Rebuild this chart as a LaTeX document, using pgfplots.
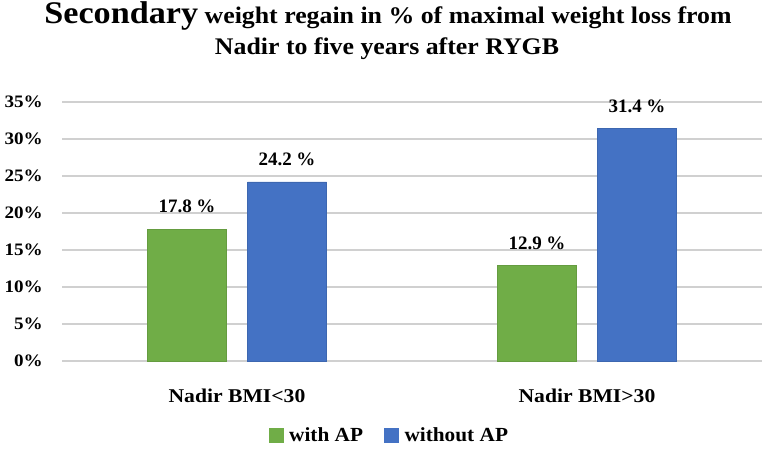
\documentclass[border=0pt]{standalone}
\usepackage{fontspec}
\setmainfont{Liberation Serif}
\usepackage{graphicx}
\usepackage{pgfplots}
\pgfplotsset{compat=1.18}
\definecolor{cgreen}{HTML}{70AD47}
\definecolor{cblue}{HTML}{4472C4}
\definecolor{cgrid}{HTML}{D0D0D0}
\newcommand{\sx}[2]{\scalebox{#1}[1]{#2}}
\begin{document}
\begin{tikzpicture}
\useasboundingbox (0,0) rectangle (768pt,456pt);
\node[anchor=base,inner sep=0pt] at (388pt,432pt) {\bfseries\sx{1.085}{{\fontsize{31.5}{36}\selectfont Secondary}\fontsize{23.8}{28}\selectfont\ weight regain in \% of maximal weight loss from}};
\node[anchor=base,inner sep=0pt] at (387pt,401pt) {\bfseries\fontsize{23.8}{28}\selectfont\sx{1.085}{Nadir to five years after RYGB}};
\begin{axis}[
  at={(62pt,95pt)}, anchor=south west,
  scale only axis, width=700pt, height=259pt,
  xmin=-0.5, xmax=1.5, ymin=0, ymax=35,
  ybar=21pt, bar width=79pt,
  axis line style={draw=none},
  tick style={draw=none},
  ymajorgrids, grid style={cgrid, line width=1.6pt},
  ytick={0,5,...,35},
  yticklabels={\sx{1.09}{0\%},\sx{1.09}{5\%},\sx{1.09}{10\%},\sx{1.09}{15\%},\sx{1.09}{20\%},\sx{1.09}{25\%},\sx{1.09}{30\%},\sx{1.09}{35\%}},
  yticklabel style={anchor=east, inner sep=0pt, xshift=-19pt, font=\bfseries\fontsize{17.5}{21}\selectfont},
  xtick={0,1},
  xticklabels={\sx{1.11}{Nadir BMI<30}, \sx{1.11}{Nadir BMI>30}},
  xticklabel style={anchor=base, inner sep=0pt, yshift=-37pt, font=\bfseries\fontsize{19.5}{23}\selectfont},
  /pgf/number format/assume math mode=true,
  nodes near coords={\pgfmathprintnumber[fixed,fixed zerofill,precision=1]{\pgfplotspointmeta}~\%},
  every node near coord/.append style={anchor=base, inner sep=0pt, yshift=16.5pt, black, font=\bfseries\fontsize{19}{23}\selectfont},
  legend style={at={(0.467,-0.2857)}, anchor=center, draw=none, fill=none,
    font=\bfseries\fontsize{20}{24}\selectfont,
    legend columns=-1,
    /tikz/every even column/.append style={column sep=20pt},
    /tikz/every odd column/.append style={column sep=5pt},
    nodes={inner sep=1pt}},
]
\addplot[fill=cgreen, draw=cgreen!90!black, line width=0.4pt,
  legend image code/.code={\fill[cgreen] (0pt,-7pt) rectangle (14pt,7pt);}]
  coordinates {(0,17.8) (1,12.9)};
\addplot[fill=cblue, draw=cblue!90!black, line width=0.4pt,
  legend image code/.code={\fill[cblue] (0pt,-7pt) rectangle (14pt,7pt);}]
  coordinates {(0,24.2) (1,31.4)};
\legend{\sx{1.065}{with AP}, \sx{1.065}{without AP}}
\end{axis}
\end{tikzpicture}
\end{document}
